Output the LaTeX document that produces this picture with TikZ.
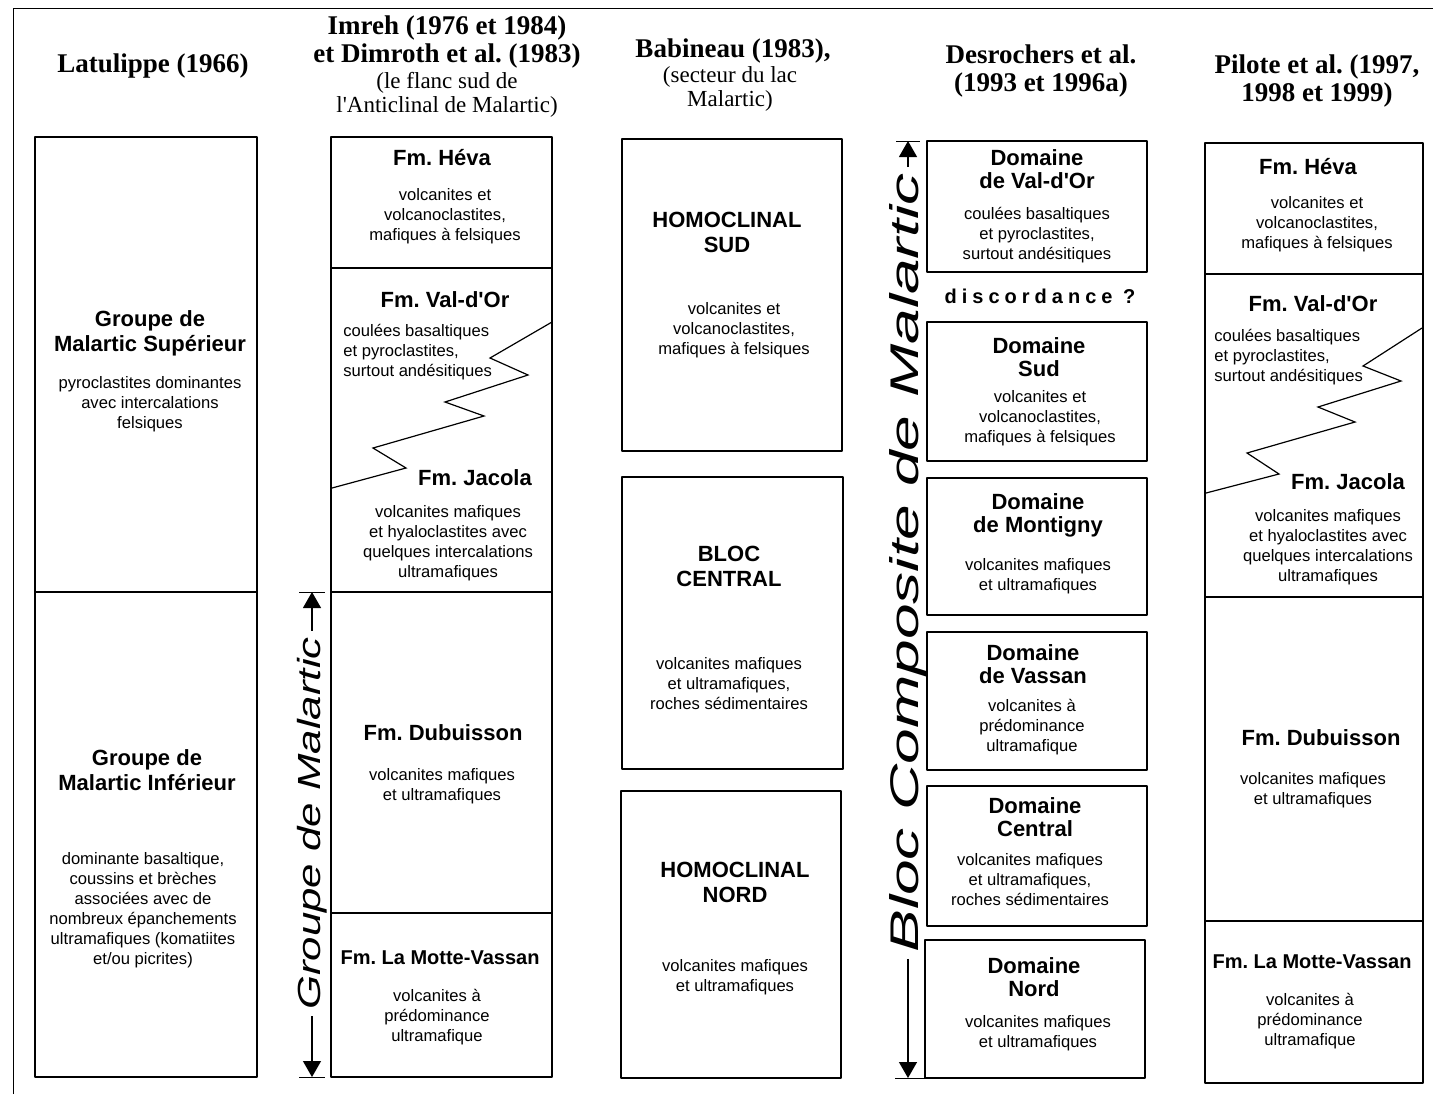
\documentclass[tikz,border=0pt]{standalone}
\usepackage{fontspec}
\setmainfont{Liberation Serif}
\setsansfont{Liberation Sans}
\usepackage{graphicx}
\usepackage{tikz}
\usetikzlibrary{arrows.meta}
\newcommand{\apos}{\textquotesingle}
\tikzset{
  colbox/.style={draw=black, line width=0.8pt},
  cadre/.style={draw=black, line width=0.5pt},
  zig/.style={draw=black, line width=0.6pt, line join=miter},
  auteur/.style={font=\fontsize{13.5}{14}\selectfont\rmfamily\bfseries, align=center, inner sep=0pt},
  source/.style={font=\fontsize{11.5}{12}\selectfont\rmfamily, align=center, inner sep=0pt},
  unite/.style={font=\fontsize{11}{11.5}\selectfont\sffamily\bfseries, align=center, inner sep=0pt},
  grand/.style={unite, font=\fontsize{11}{12.5}\selectfont\sffamily\bfseries},
  petit/.style={unite, font=\fontsize{10}{11}\selectfont\sffamily\bfseries},
  descr/.style={font=\fontsize{8.3}{10}\selectfont\sffamily, align=center, inner sep=0pt},
  descrl/.style={descr, align=left, anchor=west},
  renvoi/.style={draw=black, line width=0.6pt, -{Triangle[length=8pt,width=9pt]}},
  axe/.style={rotate=90, inner xsep=3pt, inner ysep=0pt, font=\sffamily\itshape},
  every picture/.append style={line join=round}
}

\begin{document}
\begin{tikzpicture}[x=0.5pt, y=-0.5pt]
  \useasboundingbox (0,0) rectangle (1433,1094);
  \draw[cadre] (13,1094) -- (13,8) -- (1433,8);

  % Latulippe (1966)
  \node[auteur] (hLat) at (153,66) {Latulippe (1966)};
  \draw[colbox] (35,137) rectangle (257,1077);
  \draw[colbox] (35,592) -- (257,592);
  \node[grand] (latSup) at (150,333) {Groupe de\\Malartic Supérieur};
  \node[descr] (latSupD) at (150,404) {pyroclastites dominantes\\avec intercalations\\felsiques};
  \node[grand] (latInf) at (147,770) {Groupe de\\Malartic Inférieur};
  \node[descr] (latInfD) at (143,910.5) {dominante basaltique,\\coussins et brèches\\associées avec de\\nombreux épanchements\\ultramafiques (komatiites\\et/ou picrites)};

  % Imreh et Dimroth
  \node[auteur] (hImr) at (447,42) {Imreh (1976 et 1984)\\et Dimroth et al.\ (1983)};
  \node[source] (sImr) at (447,95) {(le flanc sud de\\l\apos Anticlinal de Malartic)};
  \draw[colbox] (331,137) rectangle (552,1077);
  \draw[colbox] (331,268) -- (552,268);
  \draw[colbox] (331,592) -- (552,592);
  \draw[colbox] (331,913) -- (552,913);
  \draw[zig] (552,322) -- (490,358) -- (528,375) -- (445,402) -- (484,416)
    -- (373,448) -- (406,468) -- (332,488);
  \node[unite] (iHeva) at (442,158) {Fm.\ Héva};
  \node[descr] (iHevaD) at (445,216) {volcanites et\\volcanoclastites,\\mafiques à felsiques};
  \node[unite] (iVdo) at (445,300) {Fm.\ Val-d\apos Or};
  \node[descrl] (iVdoD) at (343,352) {coulées basaltiques\\et pyroclastites,\\surtout andésitiques};
  \node[unite] (iJac) at (475,478) {Fm.\ Jacola};
  \node[descr] (iJacD) at (448,543) {volcanites mafiques\\et hyaloclastites avec\\quelques intercalations\\ultramafiques};
  \node[unite] (iDub) at (443,733) {Fm.\ Dubuisson};
  \node[descr] (iDubD) at (442,786) {volcanites mafiques\\et ultramafiques};
  \node[petit] (iLmv) at (440,958) {Fm.\ La Motte-Vassan};
  \node[descr] (iLmvD) at (437,1017.5) {volcanites à\\prédominance\\ultramafique};

  % Groupe de Malartic
  \coordinate (gmHaut) at (312,592);
  \coordinate (gmBas) at (312,1077);
  \node[axe, font=\fontsize{16}{16}\selectfont\sffamily\itshape] (gm) at (312,823.5)
    {\scalebox{1.37}[1]{Groupe de Malartic}};
  \draw[renvoi] (gm) -- (gmHaut);
  \draw[renvoi] (gm) -- (gmBas);
  \draw[cadre] (299,592) -- (325,592);
  \draw[cadre] (299,1077) -- (325,1077);

  % Babineau (1983)
  \node[auteur] (hBab) at (733,51) {Babineau (1983),};
  \node[source] (sBab) at (730,89) {(secteur du lac\\Malartic)};
  \draw[colbox] (622,139) rectangle (842,451);
  \draw[colbox] (622,477) rectangle (843,769);
  \draw[colbox] (621,791) rectangle (841,1078);
  \node[grand] (bSud) at (727,232.5) {HOMOCLINAL\\SUD};
  \node[descr] (bSudD) at (734,330) {volcanites et\\volcanoclastites,\\mafiques à felsiques};
  \node[grand] (bCen) at (729,566.5) {BLOC\\CENTRAL};
  \node[descr] (bCenD) at (729,684) {volcanites mafiques\\et ultramafiques,\\roches sédimentaires};
  \node[grand] (bNord) at (735,882.5) {HOMOCLINAL\\NORD};
  \node[descr] (bNordD) at (735,977) {volcanites mafiques\\et ultramafiques};

  % Desrochers et al.
  \node[auteur] (hDes) at (1041,71) {Desrochers et al.\\(1993 et 1996a)};
  \draw[colbox] (927,141) rectangle (1147,272);
  \draw[colbox] (927,322) rectangle (1147,461);
  \draw[colbox] (927,478) rectangle (1147,615);
  \draw[colbox] (927,632) rectangle (1147,770);
  \draw[colbox] (927,786) rectangle (1147,926);
  \draw[colbox] (925,940) rectangle (1145,1078);
  \node[unite] (dVdo) at (1037,169.5) {Domaine\\de Val-d\apos Or};
  \node[descr] (dVdoD) at (1037,235) {coulées basaltiques\\et pyroclastites,\\surtout andésitiques};
  \node[font=\fontsize{10}{10}\selectfont\sffamily\bfseries, inner sep=0pt] (disc) at (1040,296)
    {\addfontfeature{LetterSpace=25}discordance ?};
  \node[unite] (dSud) at (1039,357.5) {Domaine\\Sud};
  \node[descr] (dSudD) at (1040,418) {volcanites et\\volcanoclastites,\\mafiques à felsiques};
  \node[unite] (dMon) at (1038,515.5) {Domaine\\de Montigny};
  \node[descr] (dMonD) at (1038,576) {volcanites mafiques\\et ultramafiques};
  \node[unite] (dVas) at (1033,664.5) {Domaine\\de Vassan};
  \node[descr] (dVasD) at (1032,727) {volcanites à\\prédominance\\ultramafique};
  \node[unite] (dCen) at (1035,817.5) {Domaine\\Central};
  \node[descr] (dCenD) at (1030,880) {volcanites mafiques\\et ultramafiques,\\roches sédimentaires};
  \node[unite] (dNord) at (1034,977.5) {Domaine\\Nord};
  \node[descr] (dNordD) at (1038,1033) {volcanites mafiques\\et ultramafiques};

  % Bloc Composite de Malartic
  \coordinate (bcHaut) at (908,141);
  \coordinate (bcBas) at (908,1078);
  \node[axe, font=\fontsize{20}{20}\selectfont\sffamily\itshape] (bc) at (908,563)
    {\scalebox{1.6}[1]{Bloc Composite de Malartic}};
  \draw[renvoi] (bc) -- (bcHaut);
  \draw[renvoi] (bc) -- (bcBas);
  \draw[cadre] (896,141) -- (920,141);
  \draw[cadre] (895,1078) -- (927,1078);

  % Pilote et al.
  \node[auteur] (hPil) at (1317,80.5) {Pilote et al.\ (1997,\\1998 et 1999)};
  \draw[colbox] (1205,143) rectangle (1423,1083);
  \draw[colbox] (1205,274) -- (1423,274);
  \draw[colbox] (1205,597) -- (1423,597);
  \draw[colbox] (1205,921) -- (1423,921);
  \draw[zig] (1422,328) -- (1363,366) -- (1401,381) -- (1318,407) -- (1355,422)
    -- (1247,453) -- (1279,474) -- (1206,493);
  \node[unite] (pHeva) at (1308,167) {Fm.\ Héva};
  \node[descr] (pHevaD) at (1317,224) {volcanites et\\volcanoclastites,\\mafiques à felsiques};
  \node[unite] (pVdo) at (1313,304) {Fm.\ Val-d\apos Or};
  \node[descrl] (pVdoD) at (1214,357) {coulées basaltiques\\et pyroclastites,\\surtout andésitiques};
  \node[unite] (pJac) at (1348,482) {Fm.\ Jacola};
  \node[descr] (pJacD) at (1328,547) {volcanites mafiques\\et hyaloclastites avec\\quelques intercalations\\ultramafiques};
  \node[unite] (pDub) at (1321,738) {Fm.\ Dubuisson};
  \node[descr] (pDubD) at (1313,790) {volcanites mafiques\\et ultramafiques};
  \node[petit] (pLmv) at (1312,962) {Fm.\ La Motte-Vassan};
  \node[descr] (pLmvD) at (1310,1021.5) {volcanites à\\prédominance\\ultramafique};
\end{tikzpicture}
\end{document}
